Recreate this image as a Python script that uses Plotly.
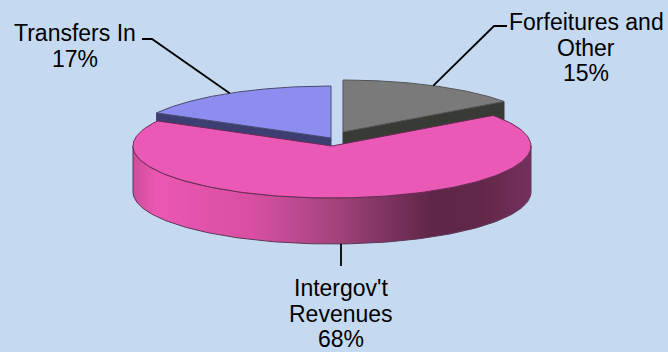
import numpy as np
import plotly.graph_objects as go

labels = ["Forfeitures and|Other", "Intergov't|Revenues", "Transfers In"]
percents = [15, 68, 17]

BG = "#C5D9F1"
TOP = ["#7A7A7A", "#EB59B6", "#8D8DEF"]
SIDE = ["#383A36", None, "#3D3F72"]
EDGE = ["#555555", "#6A2A55", "#4A4A70"]
SIDE_SCALE = [[0, "#CE4C9C"], [0.06, "#EB57B2"], [0.3, "#D84FA3"], [0.5, "#A5447F"],
              [0.75, "#5F2648"], [0.88, "#632849"], [1, "#75305E"]]

RX, RY, DEPTH = 199, 52, 46
CENTERS = [(343, 132), (332, 146), (331, 138)]


def arc(c, a0, a1, n=160):
    t = np.radians(np.linspace(a0, a1, n))
    return c[0] + RX * np.sin(t), c[1] - RY * np.cos(t)


fig = go.Figure()
bounds = np.concatenate([[0], np.cumsum(percents)]) * 3.6
order = [0, 2, 1]
mids = {}
for i in order:
    a0, a1 = bounds[i], bounds[i + 1]
    c = CENTERS[i]
    mids[i] = arc(c, (a0 + a1) / 2, (a0 + a1) / 2, 1)
    x, y = arc(c, a0, a1)
    if SIDE[i] is not None:
        # cut face between the centre and the slice's outer corner
        ex = x[0] if i == 2 else x[-1]
        ey = y[0] if i == 2 else y[-1]
        fx = [c[0], ex, ex, c[0], c[0]]
        fy = [c[1], ey, ey + DEPTH, c[1] + DEPTH, c[1]]
        fig.add_trace(go.Scatter(x=fx, y=fy, mode="lines", fill="toself", fillcolor=SIDE[i],
                                 line=dict(color=SIDE[i], width=1), hoverinfo="skip"))
    else:
        sx, sy = arc(c, 90, 270)
        px = np.concatenate([sx, sx[::-1], sx[:1]])
        py = np.concatenate([sy, sy[::-1] + DEPTH, sy[:1]])
        fig.add_trace(go.Scatter(x=px, y=py, mode="lines", fill="toself",
                                 fillgradient=dict(type="horizontal", colorscale=SIDE_SCALE),
                                 line=dict(color="#5A3A55", width=1), hoverinfo="skip"))
    fig.add_trace(go.Scatter(x=np.concatenate([[c[0]], x, [c[0]]]),
                             y=np.concatenate([[c[1]], y, [c[1]]]),
                             mode="lines", fill="toself", fillcolor=TOP[i],
                             line=dict(color=EDGE[i], width=1), hoverinfo="skip"))

# leader lines
leaders = [
    ([507, 494, float(mids[0][0][0])], [26, 26, float(mids[0][1][0])]),
    ([341, 341], [244, 266]),
    ([142, 152, float(mids[2][0][0])], [39, 39, float(mids[2][1][0])]),
]
for lx, ly in leaders:
    fig.add_trace(go.Scatter(x=lx, y=ly, mode="lines", line=dict(color="#000000", width=1.8),
                             hoverinfo="skip"))

# labels, one annotation per line
label_x = [586, 341, 75]
label_y = [22, 288, 33]
LINE = 25.5
ann = []
for i, name in enumerate(labels):
    lines = name.split("|") + [f"{percents[i]}%"]
    for k, t in enumerate(lines):
        ann.append(dict(x=label_x[i], y=label_y[i] + k * LINE, text=t, showarrow=False,
                        xanchor="center", yanchor="middle",
                        font=dict(family="Liberation Sans", size=23, color="#000000")))

fig.update_layout(
    width=668, height=352, margin=dict(l=0, r=0, t=0, b=0),
    paper_bgcolor=BG, plot_bgcolor=BG, showlegend=False, annotations=ann,
    xaxis=dict(range=[0, 668], visible=False, fixedrange=True),
    yaxis=dict(range=[352, 0], visible=False, fixedrange=True),
)
fig.write_html("out.html", config=dict(displayModeBar=False))
with open("out.html", encoding="utf-8") as f:
    page = f.read()
page = page.replace("<head>", f"<head><style>html,body{{margin:0;padding:0;overflow:hidden;background:{BG}}}</style>", 1)
with open("out.html", "w", encoding="utf-8") as f:
    f.write(page)
